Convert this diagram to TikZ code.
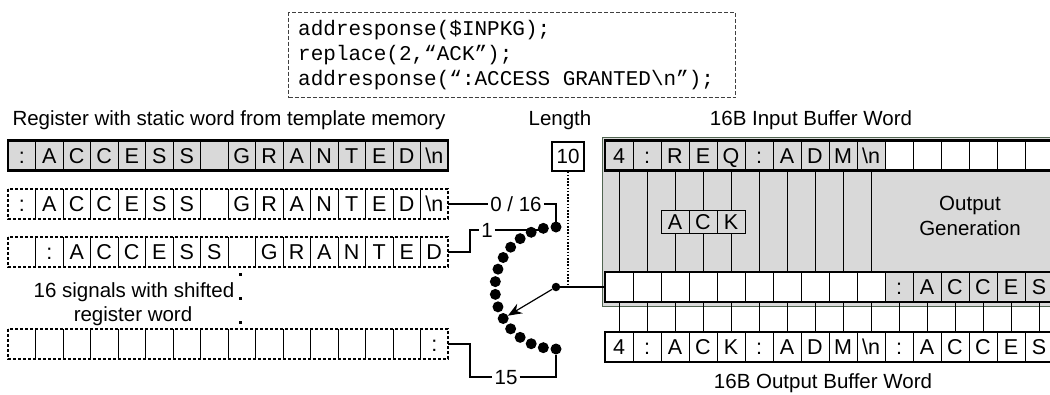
\documentclass[tikz,border=0pt]{standalone}
\usepackage{fontspec}
\setmainfont{Liberation Sans}
\newfontfamily\codefont{Liberation Mono}
\usetikzlibrary{arrows.meta}
\definecolor{cellgray}{RGB}{217,217,217}
\definecolor{boxedge}{RGB}{80,100,80}
\newcommand\labsize{\fontsize{20.5}{24}\selectfont}
\newcommand\cellsize{\fontsize{21.5}{24}\selectfont}
\newcommand\codesize{\fontsize{21}{25}\selectfont}
\tikzset{
  lab/.style={font=\labsize, inner sep=2pt, text height=14.8pt, text depth=0pt},
  lcell/.style={font=\cellsize, text height=15.4pt, text depth=0pt, inner sep=0pt, outer sep=0pt, minimum width=27.5pt, minimum height=30pt},
  rcell/.style={lcell, minimum width=28pt, draw=black, line width=1pt},
  ackcell/.style={rcell, minimum height=23pt},
  sepline/.style={line width=1pt},
  thickb/.style={line width=2.4pt},
  dashb/.style={line width=1.4pt, dash pattern=on 3pt off 2pt},
  conn/.style={line width=1.2pt},
  dotline/.style={line width=1.3pt, dash pattern=on 1.6pt off 1.6pt},
  arcdot/.style={circle, fill=black, minimum size=11pt, inner sep=0pt, outer sep=0pt},
  hubdot/.style={circle, fill=black, minimum size=8.5pt, inner sep=0pt},
  edot/.style={rectangle, fill=black, minimum size=3pt, inner sep=0pt},
  codeframe/.style={draw=black!75, line width=1pt, dash pattern=on 4pt off 2pt, inner sep=0pt},
  codeline/.style={font=\codefont\codesize, inner sep=0pt, anchor=base west},
}
\begin{document}
\begin{tikzpicture}[x=1pt,y=-1pt]
\useasboundingbox (0,0) rectangle (1050,394);
\clip (0,0) rectangle (1050,394);

% ---------- code box ----------
\node[codeframe, anchor=north west, minimum width=447pt, minimum height=85pt] (code) at (288,12) {};
\node[codeline] (code1) at (298,35) {addresponse(\$INPKG);};
\node[codeline] (code2) at (298,60) {replace(2,“ACK”);};
\node[codeline] (code3) at (298,85) {addresponse(“:ACCESS GRANTED\textbackslash n”);};

% ---------- titles ----------
\node[lab] (tReg) at (229,118) {Register with static word from template memory};
\node[lab] (tLen) at (560,118) {Length};
\node[lab] (tIn) at (811,118) {16B Input Buffer Word};
\node[lab] (tOut) at (823,381) {16B Output Buffer Word};

% ---------- left: row 1 (static word) ----------
\fill[cellgray] (8,140.5) rectangle (448,170.5);
\foreach \t [count=\i from 0] in {:,A,C,C,E,S,S,{},G,R,A,N,T,E,D,{\textbackslash n}}
  \node[lcell] (r1c\i) at ({8+27.5*(\i+0.5)},155.5) {\t};
\foreach \i in {1,...,15} \draw[sepline] (r1c\i.north west) -- (r1c\i.south west);
\draw[thickb] (r1c0.north west) rectangle (r1c15.south east);

% ---------- left: row 2 ----------
\foreach \t [count=\i from 0] in {:,A,C,C,E,S,S,{},G,R,A,N,T,E,D,{\textbackslash n}}
  \node[lcell] (r2c\i) at ({8+27.5*(\i+0.5)},204) {\t};
\foreach \i in {1,...,15} \draw[sepline] (r2c\i.north west) -- (r2c\i.south west);
\draw[dashb] (r2c0.north west) rectangle (r2c15.south east);

% ---------- left: row 3 ----------
\foreach \t [count=\i from 0] in {{},:,A,C,C,E,S,S,{},G,R,A,N,T,E,D}
  \node[lcell] (r3c\i) at ({8+27.5*(\i+0.5)},252) {\t};
\foreach \i in {1,...,15} \draw[sepline] (r3c\i.north west) -- (r3c\i.south west);
\draw[dashb] (r3c0.north west) rectangle (r3c15.south east);

% ---------- left: row 4 ----------
\foreach \t [count=\i from 0] in {{},{},{},{},{},{},{},{},{},{},{},{},{},{},{},:}
  \node[lcell] (r4c\i) at ({8+27.5*(\i+0.5)},344) {\t};
\foreach \i in {1,...,15} \draw[sepline] (r4c\i.north west) -- (r4c\i.south west);
\draw[dashb] (r4c0.north west) rectangle (r4c15.south east);

% ellipsis and caption
\node[edot] (ea) at (240,274) {};
\node[edot] (eb) at (240,298) {};
\node[edot] (ec) at (240,322) {};
\node[lab] (sig1) at (134,290) {16 signals with shifted};
\node[lab] (sig2) at (133,314) {register word};

% ---------- multiplexer dots ----------
\foreach \k in {0,...,15}
  \node[arcdot] (d\k) at ({556-61*sin(12*\k)},{288-61*cos(12*\k)}) {};
\node[hubdot] (hub) at (556,287) {};

% connectors from the shifted words
\node[lab] (l016) at (516,204) {0 / 16};
\draw[conn] (r2c15.east) -- (l016.west);
\draw[conn] (l016.east) -| (d0);
\node[lab] (l1) at (487,230) {1};
\draw[conn] (r3c15.east) -- ++(22,0) |- (l1.west);
\draw[conn] (l1.east) -- (l1.east -| d1);
\node[lab] (l15) at (506,377) {15};
\draw[conn] (r4c15.east) -- ++(22,0) |- (l15.west);
\draw[conn] (l15.east) -| (d15);

% length box
\node[draw, line width=1.2pt, lab, inner sep=0pt, minimum width=32pt, minimum height=29pt] (len) at (568,156.5) {10};

% ---------- right: output generation block ----------
\node[fill=cellgray, draw=boxedge, line width=1pt, anchor=north west, minimum width=470pt, minimum height=169pt] (gbox) at (602,137) {};

% input buffer row
\foreach \t/\f [count=\i from 0] in {4/cellgray,:/cellgray,R/cellgray,E/cellgray,Q/cellgray,:/cellgray,A/cellgray,D/cellgray,M/cellgray,{\textbackslash n}/cellgray,{}/white,{}/white,{}/white,{}/white,{}/white,{}/white}
  \node[rcell, fill=\f] (in\i) at ({605+28*(\i+0.5)},155.5) {\t};
\draw[thickb] (in0.north west) rectangle (in15.south east);

% ACK replacement
\foreach \t [count=\j from 2] in {A,C,K}
  \node[ackcell, fill=cellgray] (ack\j) at ({605+28*(\j+0.5)},221.5) {\t};

\node[lab] (og1) at (970,203) {Output};
\node[lab] (og2) at (970,228) {Generation};

% shifted register word row
\foreach \t/\f [count=\i from 0] in {{}/white,{}/white,{}/white,{}/white,{}/white,{}/white,{}/white,{}/white,{}/white,{}/white,:/cellgray,A/cellgray,C/cellgray,C/cellgray,E/cellgray,S/cellgray}
  \node[rcell, fill=\f] (og\i) at ({605+28*(\i+0.5)},287) {\t};
\draw[thickb] (og0.north west) rectangle (og15.south east);

% output buffer row
\foreach \t [count=\i from 0] in {4,:,A,C,K,:,A,D,M,{\textbackslash n},:,A,C,C,E,S}
  \node[rcell, fill=white] (out\i) at ({605+28*(\i+0.5)},347) {\t};
\draw[thickb] (out0.north west) rectangle (out15.south east);

% vertical signal lines
\foreach \i in {0,1,5,6,7,8,9} \draw[sepline] (in\i.south) -- (og\i.north);
\foreach \i in {2,3,4} {
  \draw[sepline] (in\i.south) -- (ack\i.north);
  \draw[sepline] (ack\i.south) -- (og\i.north);
}
\foreach \i in {0,...,15} \draw[sepline] (og\i.south) -- (out\i.north);

% hub connections
\draw[dotline] (len.south) -- (len.south |- hub);
\draw[conn] (hub) -- (og0.west);
\draw[conn, -{Stealth[length=14pt,width=11pt]}] (hub) -- (d10);
\end{tikzpicture}
\end{document}
